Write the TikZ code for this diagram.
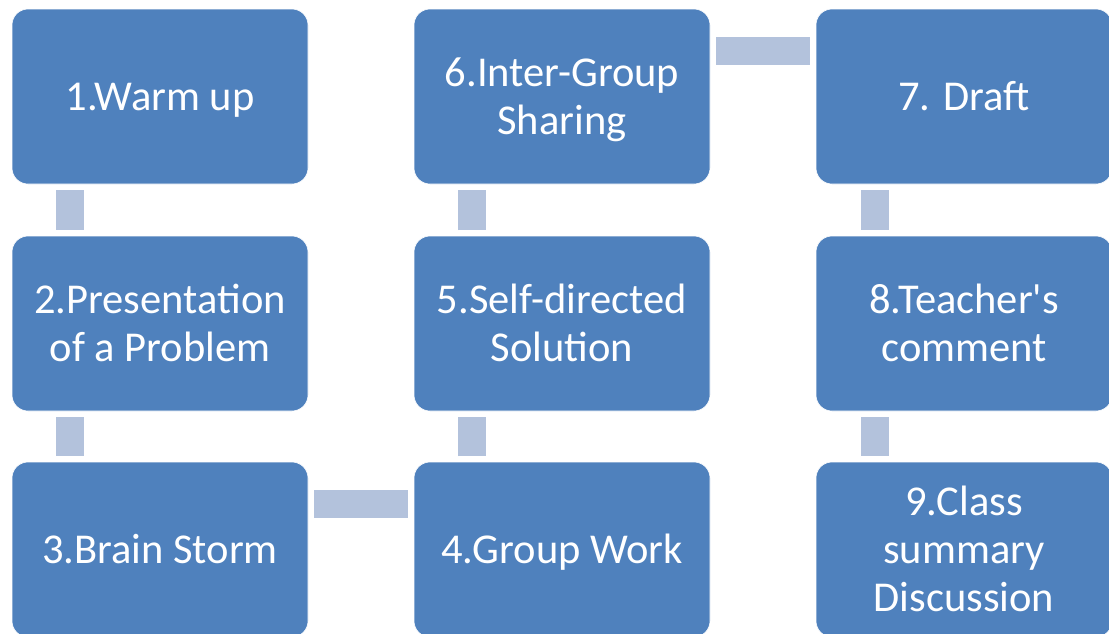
\documentclass[tikz,border=0pt]{standalone}
\usepackage{fontspec}
\newfontfamily\boxfont{Carlito}
% line strut: every line gets the same height and depth
\newcommand\lstrut{\rule[-10pt]{0pt}{48pt}}
\begin{document}
\begin{tikzpicture}[x=1pt,y=-1pt,
  stepbox/.style={rectangle, rounded corners=16pt, fill=boxblue, draw=white, line width=0.6pt,
    minimum width=296pt, minimum height=175pt, inner sep=0pt, outer sep=0pt,
    text=white, align=center,
    font=\boxfont\fontsize{42.5}{48}\selectfont},
  link/.style={draw=linkblue, line width=28pt, line cap=butt}
]
\definecolor{boxblue}{HTML}{4F81BD}
\definecolor{linkblue}{HTML}{B3C2DC}
\useasboundingbox (0,0) rectangle (1109,633);
\fill[white] (0,0) rectangle (1109,633);

% three columns of steps
\node[stepbox] (s1) at (160,96.5)  {\lstrut 1.Warm up};
\node[stepbox] (s2) at (160,323.5) {\lstrut 2.Presentation\\\lstrut of a Problem};
\node[stepbox] (s3) at (160,549.5) {\lstrut 3.Brain Storm};
\node[stepbox] (s4) at (562,549.5) {\lstrut 4.Group Work};
\node[stepbox] (s5) at (562,323.5) {\lstrut 5.Self-directed\\\lstrut Solution};
\node[stepbox] (s6) at (562,96.5)  {\lstrut 6.Inter-Group\\\lstrut Sharing};
\node[stepbox] (s7) at (964,96.5)  {\lstrut 7. Draft};
\node[stepbox] (s8) at (964,323.5) {\lstrut 8.Teacher's\\\lstrut comment};
\node[stepbox] (s9) at (964,549.5) {\lstrut 9.Class\\\lstrut summary\\\lstrut Discussion};

% vertical links
\draw[link] ([xshift=58pt,yshift=-6pt]s1.south west) -- ([xshift=58pt,yshift=6pt]s2.north west);
\draw[link] ([xshift=58pt,yshift=-6pt]s2.south west) -- ([xshift=58pt,yshift=6pt]s3.north west);
\draw[link] ([xshift=58pt,yshift=6pt]s4.north west) -- ([xshift=58pt,yshift=-6pt]s5.south west);
\draw[link] ([xshift=58pt,yshift=6pt]s5.north west) -- ([xshift=58pt,yshift=-6pt]s6.south west);
\draw[link] ([xshift=59pt,yshift=-6pt]s7.south west) -- ([xshift=59pt,yshift=6pt]s8.north west);
\draw[link] ([xshift=59pt,yshift=-6pt]s8.south west) -- ([xshift=59pt,yshift=6pt]s9.north west);

% horizontal links
\draw[link] ([xshift=6pt,yshift=-42pt]s3.north east) -- ([xshift=-6pt,yshift=-42pt]s4.north west);
\draw[link] ([xshift=6pt,yshift=-42pt]s6.north east) -- ([xshift=-6pt,yshift=-42pt]s7.north west);
\end{tikzpicture}
\end{document}
